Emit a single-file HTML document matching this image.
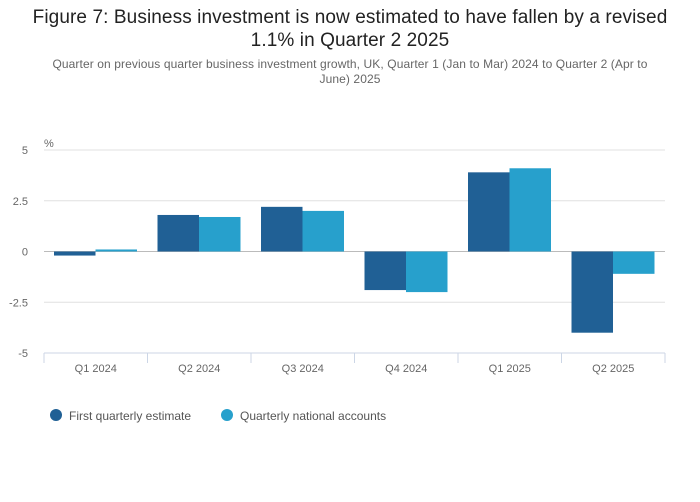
<!DOCTYPE html>
<html><head><meta charset="utf-8">
<style>
body{margin:0;background:#fff;font-family:"Liberation Sans",sans-serif;}
#wrap{position:relative;width:700px;height:502px;overflow:hidden;}
h1{position:absolute;top:6px;left:15px;width:670px;text-align:center;margin:0;font-size:19px;font-weight:normal;color:#222;line-height:23px;letter-spacing:0.1px;}
.sub{position:absolute;top:57px;left:45px;width:610px;text-align:center;font-size:12px;color:#666;line-height:15px;letter-spacing:0.1px;}
</style></head><body>
<div id="wrap">
<h1>Figure 7: Business investment is now estimated to have fallen by a revised<br>1.1% in Quarter 2 2025</h1>
<div class="sub">Quarter on previous quarter business investment growth, UK, Quarter 1 (Jan to Mar) 2024 to Quarter 2 (Apr to June) 2025</div>
<svg id="chart" width="700" height="502" style="position:absolute;left:0;top:0"></svg>
</div>
<script>
const categories=["Q1 2024","Q2 2024","Q3 2024","Q4 2024","Q1 2025","Q2 2025"];
const firstEstimate=[-0.2,1.8,2.2,-1.9,3.9,-4.0];
const nationalAccounts=[0.1,1.7,2.0,-2.0,4.1,-1.1];
const yTicks=[5,2.5,0,-2.5,-5];
const yTickLabels=["5","2.5","0","-2.5","-5"];
const seriesNames=["First quarterly estimate","Quarterly national accounts"];
const colors=["#206095","#27a0cc"];
const NS="http://www.w3.org/2000/svg";
const svg=document.getElementById('chart');
const x0=44,x1=665,yTop=150,yBot=353;
const y=v=>yTop+(5-v)/10*(yBot-yTop);
const bw=(x1-x0)/categories.length;
function mk(t,a){const e=document.createElementNS(NS,t);for(const k in a)e.setAttribute(k,a[k]);svg.appendChild(e);return e;}
yTicks.forEach((t,i)=>{
 const g=mk('line',{x1:x0,x2:x1,y1:y(t),y2:y(t),stroke:t===0?'#bbb':'#e0e0e0','stroke-width':1});
 
 
 const l=mk('text',{x:28,y:y(t)+4,'font-size':11,fill:'#666','text-anchor':'end'});
 l.textContent=yTickLabels[i];
 
 
});
const u=mk('text',{x:44,y:147,'font-size':11,fill:'#666'});u.textContent='%';


const ax=mk('line',{x1:x0,x2:x1,y1:yBot,y2:yBot,stroke:'#ccd6e6'});


categories.forEach((c,i)=>{
 const cx=x0+bw*i;
 const tk=mk('line',{x1:cx,x2:cx,y1:yBot,y2:yBot+10,stroke:'#ccd6e6'});
 
 
 [firstEstimate,nationalAccounts].forEach((s,j)=>{
  const v=s[i];const bx=cx+10+j*41.5;
  const r=mk('rect',{x:bx,width:41.5,y:Math.min(y(v),y(0)),height:Math.abs(y(v)-y(0)),fill:colors[j]});
  
  
 });
 const l=mk('text',{x:cx+bw/2,y:372,'font-size':11,fill:'#666','text-anchor':'middle'});
 l.textContent=c;
 
 
});
const tk2=mk('line',{x1:x1,x2:x1,y1:yBot,y2:yBot+10,stroke:'#ccd6e6'});


const lx=[56,227];
seriesNames.forEach((n,j)=>{
 const c=mk('circle',{cx:lx[j],cy:415,r:6,fill:colors[j]});
 
 
 const t=mk('text',{x:lx[j]+13,y:420,'font-size':12,fill:'#555'});
 t.textContent=n;
 
 
});
</script>
</body></html>
